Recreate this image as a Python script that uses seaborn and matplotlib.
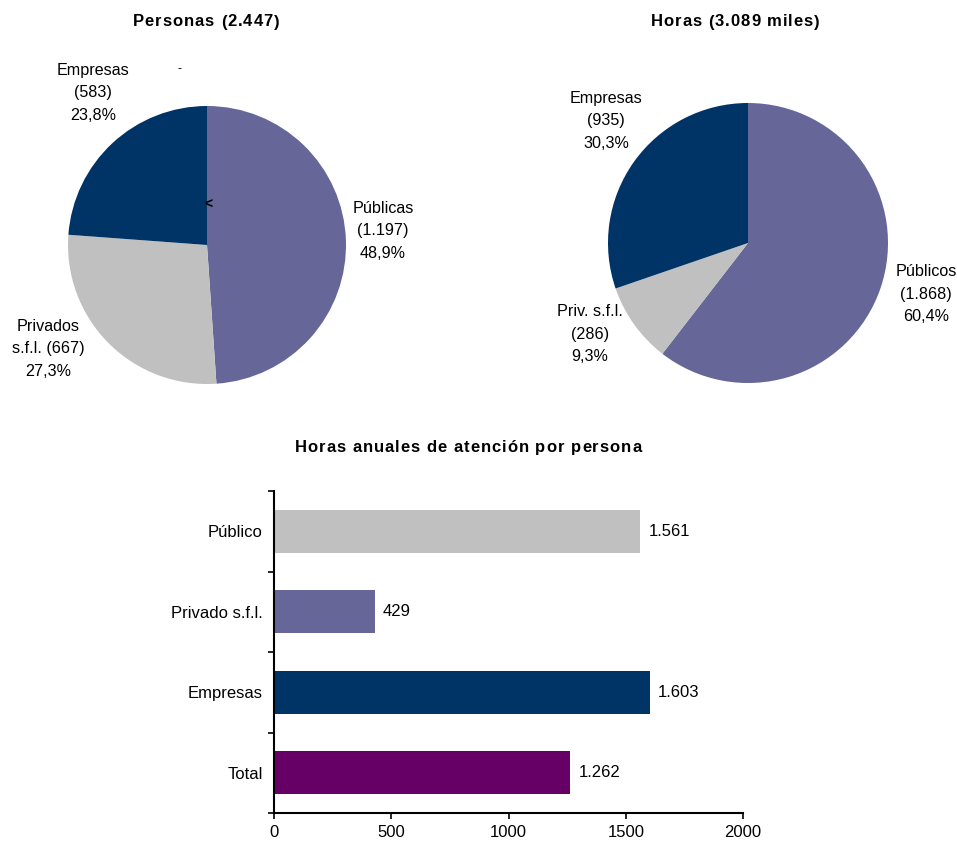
import matplotlib
matplotlib.use("Agg")
import matplotlib.pyplot as plt
import seaborn as sns
import pandas as pd

# ---- data ----
personas_labels = ["Públicas", "Privados", "Empresas"]
personas_values = [1197, 667, 583]
personas_pct = ["48,9%", "27,3%", "23,8%"]

horas_labels = ["Públicos", "Priv. s.f.l.", "Empresas"]
horas_values = [1868, 286, 935]
horas_pct = ["60,4%", "9,3%", "30,3%"]

bar_categories = ["Público", "Privado s.f.l.", "Empresas", "Total"]
bar_values = [1561, 429, 1603, 1262]

C_PURPLE = "#666699"
C_GREY = "#C0C0C0"
C_NAVY = "#003366"
C_MAGENTA = "#660066"

W, H = 957, 843
sns.set_style("white")
plt.rcParams["font.family"] = ["Liberation Sans", "DejaVu Sans"]
plt.rcParams.update({"text.color": "black", "xtick.color": "black",
                     "ytick.color": "black", "axes.labelcolor": "black"})

fig = plt.figure(figsize=(W / 100, H / 100), dpi=100)


def fx(x):
    return x / W


def fy(y):
    return 1 - y / H


def fmt(v):
    return f"{v:,}".replace(",", ".")


def spaced_text(s, xc, y, size=12, extra=1.0, weight="bold"):
    """Draw a string centred at pixel (xc, y) with extra letter spacing."""
    renderer = fig.canvas.get_renderer()
    widths = []
    for ch in s:
        if ch == " ":
            t1 = fig.text(0, 0, "a a", fontsize=size, weight=weight)
            t2 = fig.text(0, 0, "aa", fontsize=size, weight=weight)
            w = t1.get_window_extent(renderer).width - t2.get_window_extent(renderer).width
            t1.remove(); t2.remove()
        else:
            t = fig.text(0, 0, ch, fontsize=size, weight=weight)
            w = t.get_window_extent(renderer).width
            t.remove()
        widths.append(w)
    total = sum(widths) + extra * (len(s) - 1)
    x = xc - total / 2
    for ch, w in zip(s, widths):
        if ch != " ":
            fig.text(fx(x), fy(y), ch, fontsize=size, weight=weight,
                     ha="left", va="center", color="black")
        x += w + extra


# ---- pie: personas ----
ax1 = fig.add_axes([fx(68), fy(384), 278 / W, 278 / H])
ax1.pie(personas_values, colors=[C_PURPLE, C_GREY, C_NAVY], startangle=90,
        counterclock=False, radius=1, wedgeprops=dict(linewidth=0))
ax1.set_xlim(-1, 1); ax1.set_ylim(-1, 1)
ax1.set_aspect("equal"); ax1.axis("off")

# ---- pie: horas ----
ax2 = fig.add_axes([fx(608), fy(383), 280 / W, 280 / H])
ax2.pie(horas_values, colors=[C_PURPLE, C_GREY, C_NAVY], startangle=90,
        counterclock=False, radius=1, wedgeprops=dict(linewidth=0))
ax2.set_xlim(-1, 1); ax2.set_ylim(-1, 1)
ax2.set_aspect("equal"); ax2.axis("off")

lab_kw = dict(fontsize=11.6, ha="center", va="center", linespacing=1.62, color="black")
fig.text(fx(383), fy(231), f"{personas_labels[0]}\n({fmt(personas_values[0])})\n{personas_pct[0]}", **lab_kw)
fig.text(fx(48), fy(349), f"{personas_labels[1]}\ns.f.l. ({fmt(personas_values[1])})\n{personas_pct[1]}", **lab_kw)
fig.text(fx(93), fy(93), f"{personas_labels[2]}\n({fmt(personas_values[2])})\n{personas_pct[2]}", **lab_kw)
fig.text(fx(180), fy(69), "-", fontsize=9, ha="center", va="center", color="black")
fig.text(fx(208), fy(205), "<", fontsize=10, weight="bold", ha="center", va="center", color="black")

fig.text(fx(926), fy(294), f"{horas_labels[0]}\n({fmt(horas_values[0])})\n{horas_pct[0]}", **lab_kw)
fig.text(fx(590), fy(334), f"{horas_labels[1]}\n({fmt(horas_values[1])})\n{horas_pct[1]}", **lab_kw)
fig.text(fx(606), fy(121), f"{horas_labels[2]}\n({fmt(horas_values[2])})\n{horas_pct[2]}", **lab_kw)

spaced_text("Personas (2.447)", 206, 22)
spaced_text("Horas (3.089 miles)", 735, 22)
spaced_text("Horas anuales de atención por persona", 468, 448)

# ---- bar chart ----
ax3 = fig.add_axes([fx(274), fy(813), 469 / W, 322 / H])
df = pd.DataFrame({"cat": bar_categories, "val": bar_values})
sns.barplot(data=df, y="cat", x="val", hue="cat", order=bar_categories,
            palette=[C_GREY, C_PURPLE, C_NAVY, C_MAGENTA], legend=False,
            width=0.54, saturation=1, ax=ax3, linewidth=0)
ax3.set_xlim(0, 2000)
ax3.set_ylim(3.5, -0.5)
ax3.set_xticks([0, 500, 1000, 1500, 2000])
ax3.set_xlabel(""); ax3.set_ylabel("")
for s in ["top", "right"]:
    ax3.spines[s].set_visible(False)
for s in ["left", "bottom"]:
    ax3.spines[s].set_color("black")
    ax3.spines[s].set_linewidth(1.5)
ax3.tick_params(axis="x", direction="out", length=4.5, width=1.2, labelsize=12, pad=4, bottom=True)
ax3.tick_params(axis="y", which="major", length=0, labelsize=12, pad=8)
ax3.set_yticks([-0.5, 0.5, 1.5, 2.5, 3.5], minor=True)
ax3.tick_params(axis="y", which="minor", direction="out", length=4.5, width=1.2, left=True)
for i, v in enumerate(bar_values):
    ax3.annotate(fmt(v), (v, i), xytext=(6, 0), textcoords="offset points",
                 fontsize=12, ha="left", va="center", color="black")

fig.savefig("out.png", dpi=100)
